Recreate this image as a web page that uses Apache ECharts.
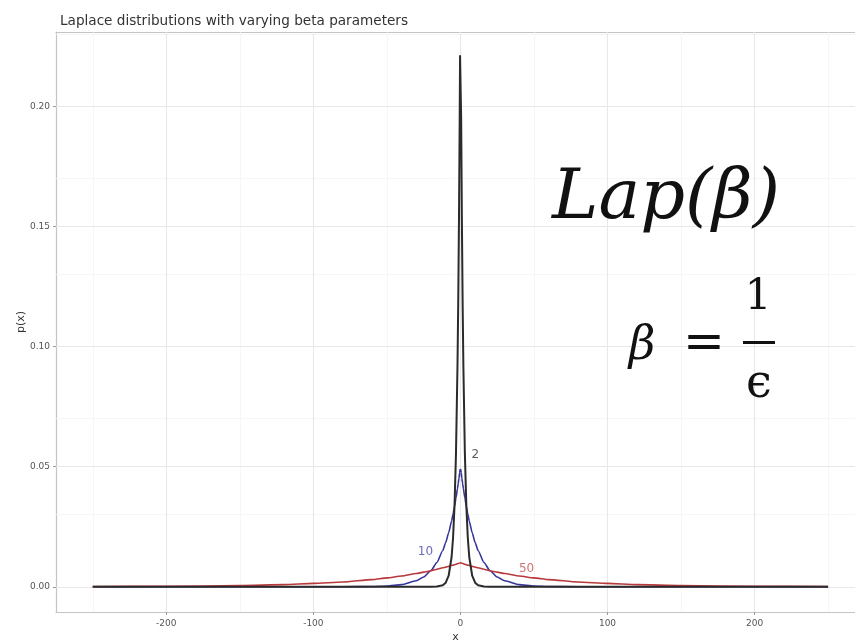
<!DOCTYPE html>
<html>
<head>
<meta charset="utf-8">
<script src="https://cdn.jsdelivr.net/npm/echarts@6/dist/echarts.min.js"></script>
<style>
html,body{margin:0;padding:0;background:#fff;}
#chart{width:855px;height:644px;}
</style>
</head>
<body>
<div id="chart"></div>
<script>
// ---- data ----
const xValues = [-250,-200,-150,-120,-100,-80,-60,-50,-40,-30,-25,-20,-16,-12,-10,-8,-6,-5,-4,-3,-2,-1.5,-1,-0.5,-0.25,
                 0.25,0.5,1,1.5,2,3,4,5,6,8,10,12,16,20,25,30,40,50,60,80,100,120,150,200,250];
const halfBeta2  = [0,0,0,0,0,0,0,0,0,0,0,0,0.0001,0.0006,0.0017,0.0046,0.0124,0.0205,0.034,0.056,0.092,0.118,0.152,0.195,0.221];
const halfBeta10 = [0,0,0,0,0,0,0.0001,0.0003,0.0009,0.0025,0.0041,0.0068,0.0101,0.0151,0.0184,0.0225,0.0274,0.0303,0.0335,0.037,0.0409,0.043,0.0452,0.0476,0.0488];
const halfBeta50 = [0.0001,0.0002,0.0005,0.0009,0.0014,0.002,0.003,0.0037,0.0045,0.0055,0.0061,0.0067,0.0073,0.0079,0.0082,0.0085,0.0089,0.009,0.0092,0.0094,0.0096,0.0097,0.0098,0.0099,0.00995];
const yBeta2  = halfBeta2.concat(halfBeta2.slice().reverse());
const yBeta10 = halfBeta10.concat(halfBeta10.slice().reverse());
const yBeta50 = halfBeta50.concat(halfBeta50.slice().reverse());
const seriesNames = ['2','10','50'];
const labelX = [10.2, -23.8, 45];
const labelY = [0.0549, 0.0146, 0.0075];
const labelText = ['2','10','50'];
const xTicks = [-200,-100,0,100,200];
const xMinor = [-250,-150,-50,50,150,250];
const yTicks = [0,0.05,0.10,0.15,0.20];
const yMinor = [0.025,0.075,0.125,0.175,0.225];
const titleText = 'Laplace distributions with varying beta parameters';

// ---- chart ----
const colors = {'2':'#2b2b2b','10':'#36369a','50':'#b8393c'};
const labelColors = ['#333333','#4646aa','#c4504f'];
function pairs(ys){ return xValues.map((x,i)=>[x, ys[i]]); }

const chart = echarts.init(document.getElementById('chart'), null, {renderer:'canvas'});
const gridLines = [];
xMinor.forEach(v=>gridLines.push({xAxis:v, lineStyle:{color:'#f4f4f4', width:0.8, type:'solid'}}));
yMinor.forEach(v=>gridLines.push({yAxis:v, lineStyle:{color:'#f4f4f4', width:0.8, type:'solid'}}));
xTicks.forEach(v=>gridLines.push({xAxis:v, lineStyle:{color:'#e8e8e8', width:1.1, type:'solid'}}));
yTicks.forEach(v=>gridLines.push({yAxis:v, lineStyle:{color:'#e8e8e8', width:1.1, type:'solid'}}));

const FONT = 'DejaVu Sans, Liberation Sans, Arial, sans-serif';
const axisLabelStyle = {color:'#555', fontSize:9, fontFamily:FONT};
const borderLine = {show:true, onZero:false, lineStyle:{color:'#c4c4c4', width:1.2}};
chart.setOption({
  animation:false,
  backgroundColor:'#ffffff',
  title:{text:titleText, left:55, top:9, textStyle:{fontSize:13.6, fontWeight:'normal', color:'#333', fontFamily:FONT}},
  grid:{left:56, top:32, right:0, bottom:32, show:false, containLabel:false, outerBoundsMode:'none'},
  xAxis:[{type:'value', min:-275, max:268.3, name:'x', nameLocation:'middle', nameGap:20, nameMoveOverlap:false,
    nameTextStyle:{color:'#333', fontSize:11, fontFamily:FONT},
    axisLine:borderLine, splitLine:{show:false},
    axisTick:{show:true, length:3, lineStyle:{color:'#999'}, customValues:xTicks},
    axisLabel:Object.assign({margin:7, customValues:xTicks}, axisLabelStyle)},
    {type:'value', position:'top', min:-275, max:268.3, axisLine:borderLine,
     axisTick:{show:false}, axisLabel:{show:false}, splitLine:{show:false}}],
  yAxis:{type:'value', min:-0.0105, max:0.231, name:'p(x)', nameLocation:'middle', nameGap:29, nameMoveOverlap:false,
    nameTextStyle:{color:'#333', fontSize:11, fontFamily:FONT},
    axisLine:borderLine, splitLine:{show:false},
    axisTick:{show:true, length:3, lineStyle:{color:'#999'}, customValues:yTicks},
    axisLabel:Object.assign({margin:6, customValues:yTicks, formatter:v=>v.toFixed(2)}, axisLabelStyle)},
  series:[
    {type:'line', name:'grid', data:[], z:1, zlevel:0, silent:true,
      markLine:{silent:true, symbol:['none','none'], label:{show:false}, animation:false, data:gridLines}},
    {type:'line', name:seriesNames[1], data:pairs(yBeta10), showSymbol:false, z:3, zlevel:1,
      lineStyle:{color:colors['10'], width:1.6}, smooth:0.2, smoothMonotone:'x'},
    {type:'line', name:seriesNames[2], data:pairs(yBeta50), showSymbol:false, z:3, zlevel:1,
      lineStyle:{color:colors['50'], width:1.6}, smooth:0.2, smoothMonotone:'x'},
    {type:'line', name:seriesNames[0], data:pairs(yBeta2), showSymbol:false, z:4, zlevel:1,
      lineStyle:{color:colors['2'], width:2, join:'round'}, smooth:false},
    {type:'scatter', name:'labels', symbolSize:0, z:5, zlevel:1, silent:true,
      data:labelX.map((x,i)=>({value:[x,labelY[i],labelText[i]],
        label:{show:true, position:'inside', formatter:labelText[i], color:labelColors[i], fontSize:12, fontFamily:FONT}}))}
  ],
  graphic:[
    {type:'text', zlevel:1, z:100, left:552, top:165, style:{text:'Lap(β)', font:'italic 70px "DejaVu Serif", "Liberation Serif", serif', fill:'#111'}},
    {type:'text', zlevel:1, z:100, x:642, y:347, style:{text:'β', font:'italic 46px "DejaVu Serif", "Liberation Serif", serif', fill:'#111', align:'center', verticalAlign:'middle'}},
    {type:'text', zlevel:1, z:100, x:704, y:345, style:{text:'=', font:'50px "DejaVu Serif", "Liberation Serif", serif', fill:'#111', align:'center', verticalAlign:'middle'}},
    {type:'text', zlevel:1, z:100, x:758, y:298, style:{text:'1', font:'42px "DejaVu Serif", "Liberation Serif", serif', fill:'#111', align:'center', verticalAlign:'middle'}},
    {type:'rect', zlevel:1, z:100, shape:{x:743, y:341, width:32, height:3}, style:{fill:'#111'}},
    {type:'text', zlevel:1, z:100, x:759, y:385, style:{text:'ϵ', font:'46px "DejaVu Serif", "Liberation Serif", serif', fill:'#111', align:'center', verticalAlign:'middle'}}
  ]
});
</script>
</body>
</html>
